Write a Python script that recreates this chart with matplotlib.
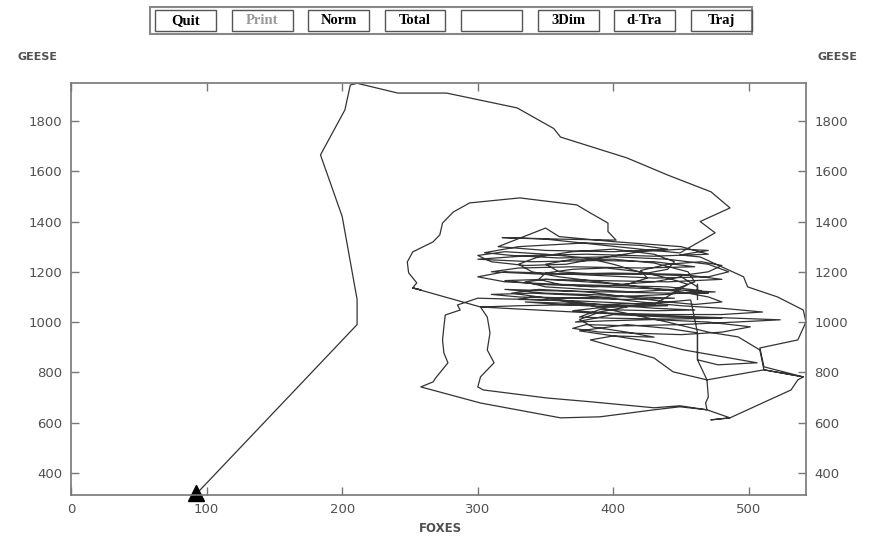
import matplotlib.pyplot as plt
from matplotlib.patches import Rectangle

# predator-prey trajectory (foxes, geese), in drawing order
approach = [(94, 325), (211, 990), (211, 1090), (200, 1420), (197, 1466), (184, 1665), (198, 1804), (202, 1844),
            (206, 1943), (211, 1950), (241, 1911), (277, 1911), (329, 1852), (356, 1770), (361, 1736), (410, 1653),
            (440, 1585), (472, 1518), (486, 1454), (464, 1400), (475, 1355), (449, 1275)]
tangle_top = [(420, 1290), (385, 1310), (350, 1330), (318, 1336), (360, 1330), (402, 1326)]
left_lobe = [(396, 1360), (396, 1394), (383, 1434), (373, 1466), (331, 1494), (294, 1474), (282, 1438), (274, 1394),
             (272, 1347), (267, 1319), (252, 1279), (248, 1239), (249, 1196), (255, 1156), (252, 1136), (258, 1128),
             (252, 1136), (302, 1060), (385, 1036), (523, 1009)]
tangle_b = [(490, 1000), (450, 990), (410, 985), (380, 990), (370, 975), (390, 960), (420, 955), (450, 950), (480, 960),
            (501, 981), (470, 1000), (430, 1010), (395, 1005), (372, 1000), (400, 1030), (440, 1020), (480, 1015),
            (440, 1012), (400, 1015), (375, 1020), (390, 1050), (430, 1045), (460, 1048), (430, 1055), (400, 1068),
            (365, 1075), (335, 1080), (360, 1070), (400, 1060), (440, 1065), (410, 1075), (370, 1085), (330, 1090),
            (340, 1100), (370, 1095), (410, 1090), (445, 1095), (420, 1100), (390, 1108), (350, 1115), (320, 1130),
            (350, 1125), (395, 1120), (440, 1115), (475, 1120), (440, 1130), (395, 1140), (345, 1150), (320, 1165),
            (350, 1170), (390, 1165), (440, 1160), (480, 1170), (450, 1190), (400, 1195), (350, 1190), (310, 1200),
            (330, 1215), (370, 1220), (420, 1215), (460, 1220), (430, 1240), (390, 1245), (340, 1240), (300, 1250),
            (340, 1265), (380, 1270), (430, 1262), (470, 1270), (450, 1300), (400, 1320), (360, 1340), (350, 1374),
            (315, 1300), (350, 1285), (400, 1280), (440, 1290), (420, 1305), (380, 1315), (330, 1300), (305, 1276)]
tangle_c = [(325, 1265), (360, 1255), (400, 1260), (440, 1250), (470, 1230), (485, 1200), (470, 1180), (430, 1175),
            (390, 1185), (350, 1195), (320, 1200), (300, 1180), (320, 1160), (360, 1150), (400, 1145), (440, 1140),
            (465, 1125), (440, 1110), (400, 1100), (360, 1095), (330, 1100), (310, 1110), (340, 1115), (380, 1105),
            (420, 1080), (450, 1065), (480, 1055), (510, 1040), (480, 1030), (440, 1030), (400, 1035), (370, 1045),
            (395, 1060), (430, 1070), (455, 1150)]
tangle_arcs = [(440, 1175), (420, 1200), (395, 1215), (370, 1210), (350, 1195), (345, 1170), (360, 1150), (385, 1140),
               (410, 1150), (425, 1175), (420, 1205), (440, 1230), (465, 1240), (480, 1225), (470, 1200), (450, 1185),
               (425, 1190), (400, 1230), (380, 1255), (350, 1270), (320, 1280), (300, 1265), (310, 1240), (335, 1225),
               (365, 1230), (385, 1250), (420, 1280), (450, 1290), (470, 1285)]
right_outer = [(449, 1267), (464, 1259), (496, 1180), (499, 1140), (521, 1100), (540, 1048), (542, 1000), (536, 929),
               (508, 897), (511, 822), (540, 782), (511, 810), (508, 889), (492, 941), (470, 960), (440, 1000),
               (405, 1040), (380, 1070), (360, 1085), (340, 1090), (320, 1092), (300, 1095)]
bottom_outer = [(285, 1068), (287, 1048), (276, 1028), (275, 981), (274, 929), (275, 877), (278, 838), (269, 778),
                (267, 762), (258, 742), (302, 678), (361, 619), (390, 623), (430, 651), (449, 663), (469, 651),
                (486, 619), (472, 611), (486, 619), (531, 730), (536, 770), (540, 782), (511, 810), (469, 770),
                (444, 802), (430, 857), (383, 929), (400, 945), (430, 920), (452, 889), (506, 838), (477, 830),
                (462, 850), (462, 957), (457, 1088), (430, 1075), (395, 1070), (360, 1068), (330, 1065), (302, 1060)]
bottom_inner = [(307, 1020), (309, 957), (307, 889), (312, 838), (302, 782), (300, 742), (304, 730), (351, 698),
                (383, 683), (430, 659), (449, 667), (469, 651), (468, 678), (470, 702), (469, 770), (462, 850),
                (462, 957), (440, 975), (410, 990)]
tangle_end = [(375, 965), (400, 945), (430, 940), (410, 960), (385, 980), (375, 1010), (390, 1040), (410, 1060),
              (380, 1075), (345, 1100), (325, 1115), (345, 1130), (380, 1120), (410, 1100), (440, 1080), (460, 1070),
              (480, 1080), (470, 1100), (450, 1120), (420, 1140), (390, 1160), (360, 1180), (340, 1200), (330, 1230),
              (345, 1260), (370, 1280), (400, 1290), (430, 1270), (445, 1240), (440, 1210), (420, 1190), (390, 1190),
              (360, 1200), (350, 1230), (370, 1250), (400, 1250), (430, 1235), (455, 1200), (460, 1160), (445, 1130),
              (415, 1120), (380, 1130), (350, 1140), (335, 1160), (350, 1170), (380, 1160), (405, 1150), (430, 1160),
              (450, 1180), (462, 1140), (462, 1116), (448, 1116), (470, 1116), (462, 1116), (462, 1150), (462, 1090)]

x_ticks = [0, 100, 200, 300, 400, 500]
y_ticks = [400, 600, 800, 1000, 1200, 1400, 1600, 1800]
buttons = ['Quit', 'Print', 'Norm', 'Total', '', '3Dim', 'd-Tra', 'Traj']

frame_col = '#777777'
line_col = '#333333'
text_col = '#505050'

trajectory = (approach + tangle_top + left_lobe + tangle_b + tangle_c + tangle_arcs + right_outer
              + bottom_outer + bottom_inner + tangle_end)
foxes = [p[0] for p in trajectory]
geese = [p[1] for p in trajectory]

fig = plt.figure(figsize=(8.75, 5.38), dpi=100)
ax = fig.add_axes([0.0811, 0.0799, 0.84, 0.7658])

ax.plot(foxes, geese, color=line_col, linewidth=0.9)
# start point marker
ax.plot(foxes[0] - 2, 322, marker='^', color='black', markersize=11, clip_on=False)

ax.set_xlim(0, 542)
ax.set_ylim(312, 1951)
ax.set_xticks(x_ticks)
ax.set_yticks(y_ticks)
ax.tick_params(direction='in', length=6, width=1, color=frame_col, labelcolor=text_col,
               labelsize=9.5, top=True, right=True, labelright=True, pad=6)
for s in ax.spines.values():
    s.set_color(frame_col)
    s.set_linewidth(1.2)

fig.text(37 / 875, 1 - 57 / 538, 'GEESE', ha='center', va='center', fontsize=8, color=text_col, weight='bold')
fig.text(838 / 875, 1 - 57 / 538, 'GEESE', ha='center', va='center', fontsize=8, color=text_col, weight='bold')
fig.text(440 / 875, 1 - 528 / 538, 'FOXES', ha='center', va='center', fontsize=8.5, color=text_col, weight='bold')

# button bar at the top
fig.patches.append(Rectangle((150 / 875, 1 - 34 / 538), 602 / 875, 27 / 538, transform=fig.transFigure,
                             fill=False, edgecolor='#888888', linewidth=1.5))
for i, b in enumerate(buttons):
    x0 = 155 + i * 76.5
    fig.patches.append(Rectangle((x0 / 875, 1 - 31 / 538), 61 / 875, 21 / 538, transform=fig.transFigure,
                                 fill=False, edgecolor='#555555', linewidth=1))
    fig.text((x0 + 30.5) / 875, 1 - 20.5 / 538, b, ha='center', va='center', fontsize=10.5,
             family='Liberation Serif', weight='bold', color='#999999' if b == 'Print' else 'black')

fig.savefig('out.png')
